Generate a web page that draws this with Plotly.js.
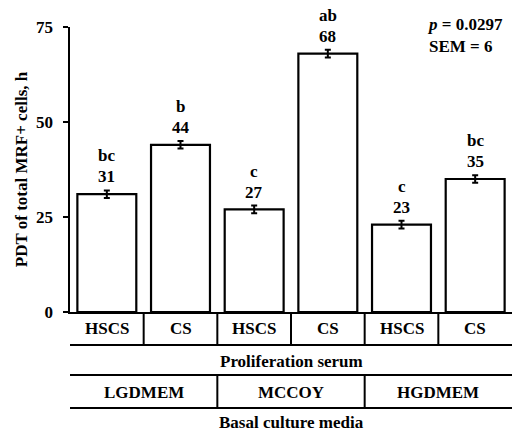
<!DOCTYPE html>
<html>
<head>
<meta charset="utf-8">
<script src="https://cdn.plot.ly/plotly-3.0.1.min.js"></script>
<style>html,body{margin:0;padding:0;background:#fff;}#chart{width:516px;height:434px;}</style>
</head>
<body>
<div id="chart"></div>
<script>
const serums = ["HSCS", "CS", "HSCS", "CS", "HSCS", "CS"];
const media = ["LGDMEM", "MCCOY", "HGDMEM"];
const values = [31, 44, 27, 68, 23, 35];
const errors = [1, 1, 1, 1, 1, 1];
const letters = ["bc", "b", "c", "ab", "c", "bc"];
const yTicks = [0, 25, 50, 75];

const FONT = "Liberation Serif, Times New Roman, serif";
const FS = 17;
const xs = values.map((v, i) => i);

const trace = {
  type: "bar",
  x: xs,
  y: values,
  width: 0.8,
  marker: {color: "#ffffff", line: {color: "#000000", width: 2.2}},
  error_y: {type: "data", array: errors, visible: true, color: "#000000", thickness: 2, width: 3},
  hoverinfo: "none"
};

const annotations = [];
const shapes = [];
values.forEach((v, i) => {
  annotations.push({x: i, y: v + errors[i], xref: "x", yref: "y", text: "<b>" + v + "</b>",
    showarrow: false, yanchor: "bottom", yshift: 2, font: {family: FONT, size: FS, color: "#000"}});
  annotations.push({x: i, y: v + errors[i], xref: "x", yref: "y", text: "<b>" + letters[i] + "</b>",
    showarrow: false, yanchor: "bottom", yshift: 23, font: {family: FONT, size: FS, color: "#000"}});
});
serums.forEach((s, i) => {
  annotations.push({x: i, y: -0.058, xref: "x", yref: "paper", text: "<b>" + s + "</b>",
    showarrow: false, yanchor: "middle", font: {family: FONT, size: FS, color: "#000"}});
});
for (let i = 0; i < serums.length - 1; i++) {
  shapes.push({type: "line", xref: "x", yref: "paper", x0: i + 0.5, x1: i + 0.5, y0: 0, y1: -0.116,
    line: {color: "#000", width: 2}});
}
annotations.push({x: 0.5, y: -0.175, xref: "paper", yref: "paper", text: "<b>Proliferation serum</b>",
  showarrow: false, yanchor: "middle", font: {family: FONT, size: FS, color: "#000"}});
media.forEach((m, j) => {
  annotations.push({x: 2 * j + 0.5, y: -0.281, xref: "x", yref: "paper", text: "<b>" + m + "</b>",
    showarrow: false, yanchor: "middle", font: {family: FONT, size: FS, color: "#000"}});
});
for (let j = 0; j < media.length - 1; j++) {
  shapes.push({type: "line", xref: "x", yref: "paper", x0: 2 * j + 1.5, x1: 2 * j + 1.5, y0: -0.221, y1: -0.337,
    line: {color: "#000", width: 2}});
}
[-0.116, -0.221, -0.337].forEach(y => {
  shapes.push({type: "line", xref: "paper", yref: "paper", x0: 0, x1: 1, y0: y, y1: y,
    line: {color: "#000", width: 2}});
});
annotations.push({x: 0.5, y: -0.386, xref: "paper", yref: "paper", text: "<b>Basal culture media</b>",
  showarrow: false, yanchor: "middle", font: {family: FONT, size: FS, color: "#000"}});
annotations.push({x: 0.985, y: 0.97, xref: "paper", yref: "paper", xanchor: "right", align: "left",
  text: "<b><i>p</i> = 0.0297<br>SEM = 6</b>", showarrow: false, yanchor: "middle",
  font: {family: FONT, size: FS, color: "#000"}});

const layout = {
  width: 516, height: 434,
  margin: {l: 70, r: 4, t: 27, b: 122, pad: 0},
  paper_bgcolor: "#fff", plot_bgcolor: "#fff",
  showlegend: false,
  xaxis: {range: [-0.5, 5.5], showticklabels: false, ticks: "", showgrid: false, zeroline: false,
    showline: true, linecolor: "#000", linewidth: 2, fixedrange: true},
  yaxis: {range: [0, 75], tickvals: yTicks, ticktext: yTicks.map(t => "<b>" + t + "</b>"),
    ticks: "outside", ticklen: 5, tickwidth: 2, tickcolor: "#000", ticklabelstandoff: 6,
    showgrid: false, zeroline: false, showline: true, linecolor: "#000", linewidth: 2.5,
    tickfont: {family: FONT, size: FS, color: "#000"},
    title: {text: "<b>PDT of total MRF+ cells, h</b>", font: {family: FONT, size: FS, color: "#000"}, standoff: 4},
    fixedrange: true},
  annotations: annotations,
  shapes: shapes
};

Plotly.newPlot("chart", [trace], layout, {displayModeBar: false, staticPlot: true});
</script>
</body>
</html>
